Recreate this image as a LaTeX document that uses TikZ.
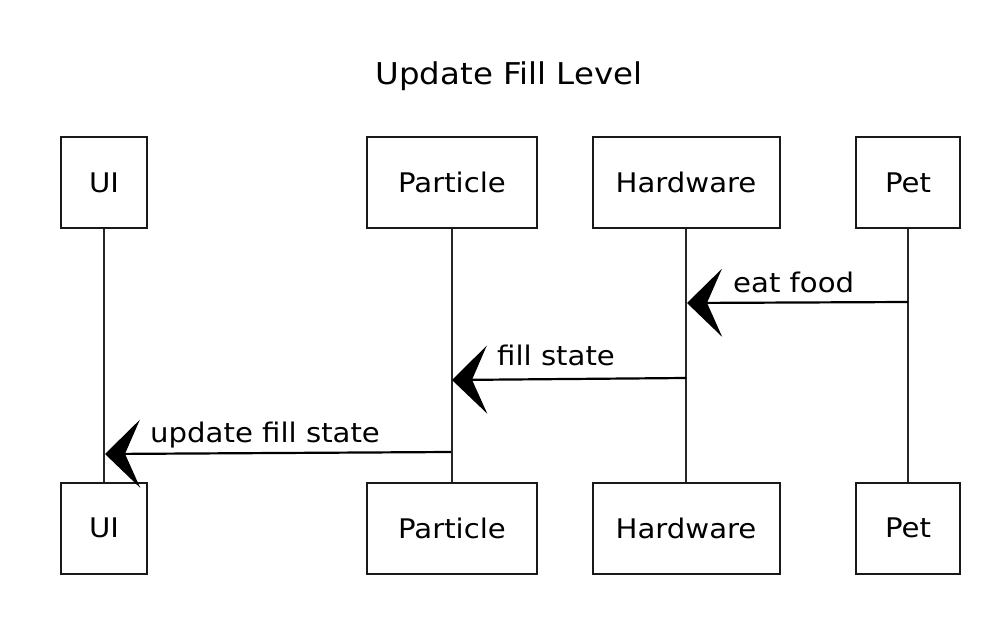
\documentclass[tikz,border=0pt]{standalone}
\usepackage{fontspec}
\setmainfont{DejaVu Sans}[FakeStretch=1.08]
\usetikzlibrary{arrows.meta}
\begin{document}
\begin{tikzpicture}[x=1pt,y=-1pt,
  actor/.style={draw=black!90,line width=2pt,minimum height=91pt,inner sep=0pt,font=\fontsize{27}{30}\selectfont},
  life/.style={draw=black!85,line width=1.6pt},
  msg/.style={draw=black,line width=2.2pt,-{Stealth[length=35pt,width=68pt,inset=15pt]}},
  lbl/.style={inner sep=0pt,anchor=base west,font=\fontsize{27}{30}\selectfont},
  ttl/.style={inner sep=0pt,font=\fontsize{30}{33}\selectfont}]
\useasboundingbox (0,0) rectangle (1006,644);
\node[ttl] (title) at (509,76) {Update Fill Level};
% top actors
\node[actor,minimum width=86pt] (uiT) at (104,182.5) {UI};
\node[actor,minimum width=170pt] (paT) at (452,182.5) {Particle};
\node[actor,minimum width=187pt] (hwT) at (686,182.5) {Hardware};
\node[actor,minimum width=104pt] (peT) at (908,182.5) {Pet};
% bottom actors
\node[actor,minimum width=86pt] (uiB) at (104,528) {UI};
\node[actor,minimum width=170pt] (paB) at (452,528) {Particle};
\node[actor,minimum width=187pt] (hwB) at (686,528) {Hardware};
\node[actor,minimum width=104pt] (peB) at (908,528) {Pet};
% lifelines
\draw[life] (uiT.south) -- (uiB.north);
\draw[life] (paT.south) -- (paB.north);
\draw[life] (hwT.south) -- (hwB.north);
\draw[life] (peT.south) -- (peB.north);
% message endpoints
\coordinate (m1s) at (908,302);
\coordinate (m1e) at (687,303);
\coordinate (m2s) at (686,378);
\coordinate (m2e) at (452,380);
\coordinate (m3s) at (451,452);
\coordinate (m3e) at (105,454);
\draw[msg] (m1s) -- (m1e);
\draw[msg] (m2s) -- (m2e);
\draw[msg] (m3s) -- (m3e);
\node[lbl] (l1) at (733,292) {eat food};
\node[lbl] (l2) at (497,365) {fill state};
\node[lbl] (l3) at (150,442) {update fill state};
\end{tikzpicture}
\end{document}
